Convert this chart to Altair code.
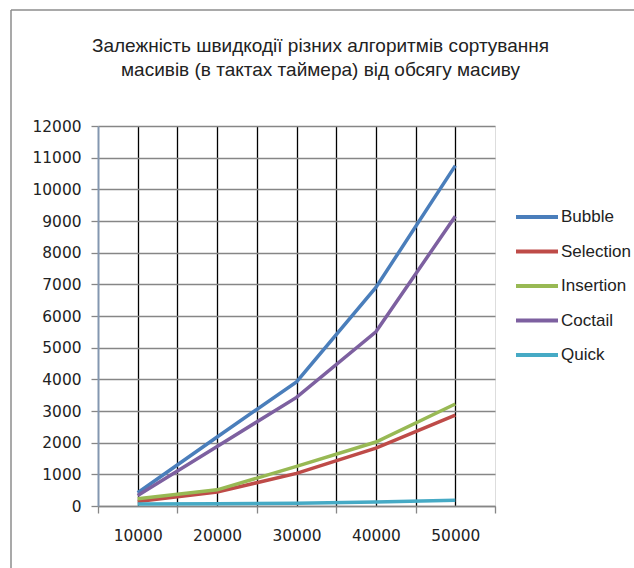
import altair as alt
import pandas as pd

sizes = [10000, 20000, 30000, 40000, 50000]
series = ["Bubble", "Selection", "Insertion", "Coctail", "Quick"]
bubble = [420, 2180, 3920, 6900, 10750]
selection = [140, 440, 1030, 1830, 2870]
insertion = [230, 510, 1250, 2020, 3220]
coctail = [330, 1880, 3430, 5500, 9150]
quick = [60, 70, 90, 130, 180]
colors = ["#4A7EBB", "#BE4B48", "#98B954", "#7D60A0", "#46AAC5"]
y_ticks = list(range(0, 13000, 1000))
x_grid = list(range(5000, 60000, 5000))
title_lines = ["Залежність швидкодії  різних алгоритмів сортування",
               "масивів (в тактах таймера)  від обсягу масиву"]

rows = []
for k, (name, vals) in enumerate(zip(series, [bubble, selection, insertion, coctail, quick])):
    for s, v in zip(sizes, vals):
        rows.append({"size": s, "time": v, "alg": name, "k": k})
df = pd.DataFrame(rows)

W, H = 397, 380
PL, PT = 98, 126

lines = alt.Chart(df).mark_line(strokeWidth=3.5).encode(
    x=alt.X("size:Q",
            scale=alt.Scale(domain=[5000, 55000], nice=False, zero=False),
            axis=alt.Axis(values=x_grid, title=None, grid=True, gridColor="black", gridWidth=1.3,
                          gridOpacity={"condition": {"test": "datum.value == 5000 || datum.value == 55000", "value": 0}, "value": 1},
                          tickOpacity={"condition": {"test": "datum.value % 10000 == 0", "value": 0}, "value": 1},
                          labelExpr="datum.value % 10000 == 0 ? format(datum.value, 'd') : ''",
                          labelOverlap=False, labelFont="DejaVu Sans", labelFontSize=15.4,
                          labelColor="#222222", labelPadding=15.5, tickSize=7, tickColor="#868686",
                          tickWidth=1.3, domainColor="#868686", domainWidth=1.5)),
    y=alt.Y("time:Q",
            scale=alt.Scale(domain=[0, 12000], nice=False),
            axis=alt.Axis(values=y_ticks, title=None, grid=True, gridColor="#868686", gridWidth=1.3,
                          format="d", labelFont="DejaVu Sans", labelFontSize=15.4, labelColor="#222222",
                          labelPadding=10, tickSize=7, tickColor="#868686", tickWidth=1.3,
                          domainColor="#8497b0", domainWidth=2)),
    color=alt.Color("alg:N", sort=series,
                    scale=alt.Scale(domain=series, range=colors),
                    legend=alt.Legend(title=None, orient="none", legendX=416, legendY=68,
                                      symbolType="stroke", symbolSize=1764, symbolStrokeWidth=4,
                                      labelFont="Liberation Sans", labelFontSize=17, labelColor="#222222",
                                      rowPadding=3.5, labelOffset=1)),
    order=alt.Order("k:Q"),
    detail="alg:N",
)

one = pd.DataFrame({"a": [0]})
frame_left = alt.Chart(one).mark_rule(color="#8c8c8c", strokeWidth=1.5).encode(
    x=alt.value(11 - PL), y=alt.value(10 - PT), y2=alt.value(568 - PT))
frame_top = alt.Chart(one).mark_rule(color="#8c8c8c", strokeWidth=1.5).encode(
    y=alt.value(10 - PT), x=alt.value(11 - PL), x2=alt.value(634 - PL))

chart = alt.layer(frame_left, frame_top, lines).properties(
    width=W, height=H,
    autosize=alt.AutoSizeParams(type="none"),
    padding={"left": PL, "top": PT, "right": 634 - PL - W, "bottom": 568 - PT - H},
    title=alt.TitleParams(title_lines, anchor="middle", frame="group", font="Liberation Sans", fontSize=19,
                          fontWeight="normal", color="#222222", offset=-71, dx=24, lineHeight=24),
).configure_view(stroke="#8497b0", strokeWidth=1.5).configure(background="white")

chart.save("out.html", embed_options={"renderer": "svg", "actions": False})
